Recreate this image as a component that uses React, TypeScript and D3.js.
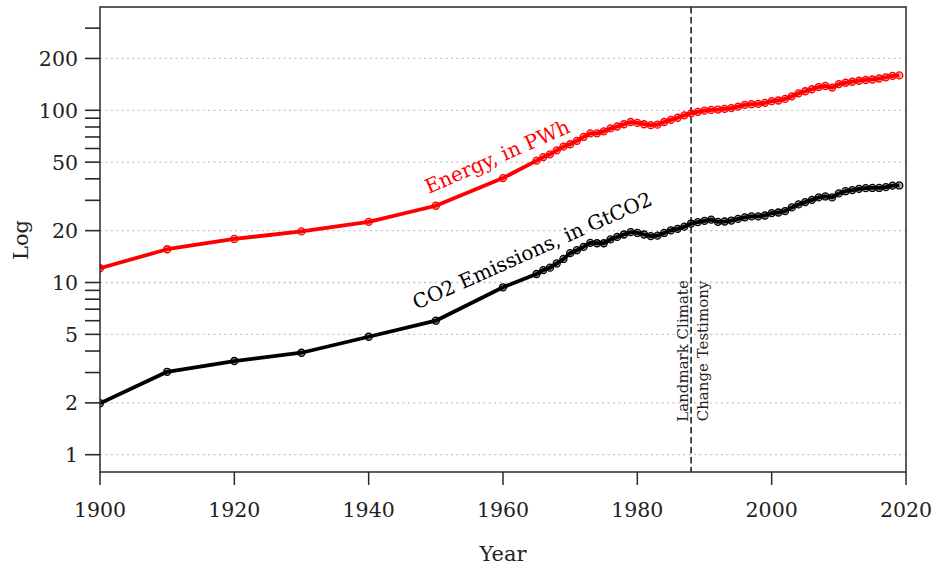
import React from "react";
import * as d3 from "d3";

const decadeYears = [1900, 1910, 1920, 1930, 1940, 1950, 1960];
const annualYears = d3.range(1965, 2020);
const years = [...decadeYears, ...annualYears];

// Energy, in PWh
const energy = [
  12.1, 15.6, 17.9, 19.8, 22.5, 27.9, 40.4,
  // 1965-1987
  51, 53.5, 55.5, 58.5, 61.5, 63.5, 66.5, 70, 73.5, 73.5, 75.5, 78.5, 80.5, 83, 85.5, 84.5, 83, 82, 82.5, 85.5, 88, 90.5, 93.5,
  // 1988-2019
  96, 98, 99.5, 100.5, 101, 102, 103, 105, 107.5, 108.5, 109, 110.5, 113, 114, 116.5, 120.5, 125.5, 129, 132.5, 136.5, 138.5, 135.5, 142, 144.5, 146.5, 148.5, 150, 151, 153, 155.5, 158.5, 159.5,
];

// CO2 Emissions, in GtCO2
const co2 = [
  1.99, 3.03, 3.5, 3.91, 4.84, 6.0, 9.38,
  // 1965-1987
  11.2, 11.8, 12.2, 12.9, 13.7, 14.8, 15.4, 16.1, 17.0, 16.9, 16.9, 17.8, 18.4, 19.0, 19.6, 19.4, 19.0, 18.6, 18.7, 19.4, 20.1, 20.5, 21.1,
  // 1988-2019
  22.0, 22.4, 22.8, 23.2, 22.5, 22.6, 22.9, 23.4, 23.9, 24.2, 24.2, 24.5, 25.3, 25.5, 26.0, 27.3, 28.4, 29.3, 30.2, 31.2, 31.6, 31.2, 32.9, 33.9, 34.4, 35.0, 35.3, 35.4, 35.4, 35.8, 36.5, 36.6,
];

const xTicks = [1900, 1920, 1940, 1960, 1980, 2000, 2020];
const yMajorTicks = [1, 2, 5, 10, 20, 50, 100, 200];
const yMinorTicks = [3, 4, 6, 7, 8, 9, 30, 40, 60, 70, 80, 90, 300];
const markerYear = 1988;

const W = 935;
const H = 566;
const left = 100;
const right = 906;
const top = 7;
const bottom = 472;
const FONT = "'DejaVu Serif', serif";

export default function App() {
  const x = d3.scaleLinear().domain([1900, 2020]).range([left, right]);
  const yPx1 = 454.7;
  const decade = 172.2;
  const y = d3
    .scaleLog()
    .domain([Math.pow(10, (yPx1 - bottom) / decade), Math.pow(10, (yPx1 - top) / decade)])
    .range([bottom, top]);

  const line = d3
    .line<[number, number]>()
    .x((d) => x(d[0]))
    .y((d) => y(d[1]));

  const energyPts: [number, number][] = years.map((yr, i) => [yr, energy[i]]);
  const co2Pts: [number, number][] = years.map((yr, i) => [yr, co2[i]]);

  const axisColor = "#2a2a2a";

  return (
    <svg
      width={W}
      height={H}
      style={{ position: "fixed", left: 0, top: 0, background: "#fff" }}
      fontFamily={FONT}
    >
      <defs>
        <clipPath id="plotClip">
          <rect x={left} y={top} width={right - left} height={bottom - top} />
        </clipPath>
      </defs>

      {/* grid */}
      {yMajorTicks.map((t) => (
        <line
          key={"g" + t}
          x1={left}
          x2={right}
          y1={y(t)}
          y2={y(t)}
          stroke="#c4c4c4"
          strokeWidth={1.3}
          strokeDasharray="2,3.4"
        />
      ))}

      {/* marker line */}
      <line
        x1={x(markerYear)}
        x2={x(markerYear)}
        y1={top}
        y2={bottom}
        stroke="#111"
        strokeWidth={1.5}
        strokeDasharray="6.5,3.5"
      />
      <text
        transform={`translate(${x(markerYear) - 3.5},351) rotate(-90)`}
        textAnchor="middle"
        fontSize={15}
        fill="#222"
      >
        Landmark Climate
      </text>
      <text
        transform={`translate(${x(markerYear) + 17},351) rotate(-90)`}
        textAnchor="middle"
        fontSize={15}
        fill="#222"
      >
        Change Testimony
      </text>

      {/* series */}
      <g clipPath="url(#plotClip)">
        <path d={line(energyPts) || ""} fill="none" stroke="#ff0000" strokeWidth={3.8} strokeLinejoin="round" />
        {energyPts.map((d) => (
          <circle
            key={"e" + d[0]}
            cx={x(d[0])}
            cy={y(d[1])}
            r={3.5}
            fill="rgba(255,0,0,0.35)"
            stroke="#ff0000"
            strokeWidth={1.3}
          />
        ))}
        <path d={line(co2Pts) || ""} fill="none" stroke="#000" strokeWidth={3.8} strokeLinejoin="round" />
        {co2Pts.map((d) => (
          <circle
            key={"c" + d[0]}
            cx={x(d[0])}
            cy={y(d[1])}
            r={3.5}
            fill="rgba(0,0,0,0.35)"
            stroke="#000"
            strokeWidth={1.3}
          />
        ))}
      </g>

      {/* series labels */}
      <text
        transform="translate(500,163) rotate(-23.5)"
        textAnchor="middle"
        fontSize={20}
        fill="#ff0000"
      >
        Energy, in PWh
      </text>
      <text
        transform="translate(535,257) rotate(-24)"
        textAnchor="middle"
        fontSize={20}
        fill="#000"
      >
        CO2 Emissions, in GtCO2
      </text>

      {/* box */}
      <rect x={left} y={top} width={right - left} height={bottom - top} fill="none" stroke={axisColor} strokeWidth={1.5} />

      {/* y ticks */}
      {[...yMajorTicks, ...yMinorTicks].map((t) => (
        <line key={"yt" + t} x1={left - 15} x2={left} y1={y(t)} y2={y(t)} stroke={axisColor} strokeWidth={1.6} />
      ))}
      {yMajorTicks.map((t) => (
        <text
          key={"yl" + t}
          x={78}
          y={y(t)}
          dy="0.36em"
          textAnchor="end"
          fontSize={20.5}
          fill="#222"
        >
          {t}
        </text>
      ))}

      {/* x ticks */}
      {xTicks.map((t) => (
        <g key={"xt" + t}>
          <line x1={x(t)} x2={x(t)} y1={bottom} y2={bottom + 13} stroke={axisColor} strokeWidth={1.5} />
          <text x={x(t)} y={517} textAnchor="middle" fontSize={20.5} fill="#222">
            {t}
          </text>
        </g>
      ))}

      {/* axis titles */}
      <text x={503} y={561} textAnchor="middle" fontSize={21} fill="#222">
        Year
      </text>
      <text transform="translate(28,240) rotate(-90)" textAnchor="middle" fontSize={21} fill="#222">
        Log
      </text>
    </svg>
  );
}
